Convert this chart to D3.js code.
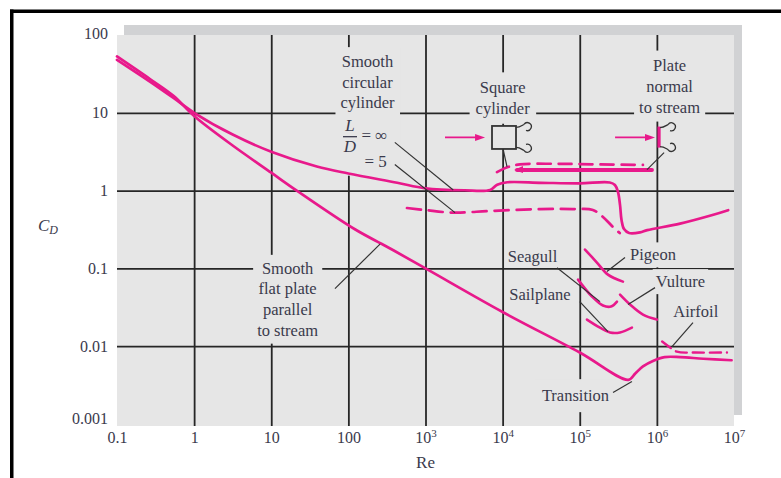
<!DOCTYPE html>
<html><head><meta charset="utf-8">
<script src="https://cdn.jsdelivr.net/npm/d3@7"></script>
<style>
html,body{margin:0;padding:0;background:#fff;}
svg{display:block;}
text{font-family:"Liberation Serif","Times New Roman",serif;}
</style></head><body>
<svg id="c" width="781" height="478"></svg>
<script>
// ---------- data ----------
const reTicks = [0.1, 1, 10, 100, 1e3, 1e4, 1e5, 1e6, 1e7];
const reTickBase = ["0.1", "1", "10", "100", "10", "10", "10", "10", "10"];
const reTickSup  = ["", "", "", "", "3", "4", "5", "6", "7"];
const cdTicks = [0.001, 0.01, 0.1, 1, 10, 100];
const cdTickLabels = ["0.001", "0.01", "0.1", "1", "10", "100"];
const gridRe = [1, 10, 100, 1e3, 1e4, 1e5, 1e6];
const gridCd = [0.01, 0.1, 1, 10];

// [Re, CD]
const cylinderInf = [[0.1,48],[0.27,25],[0.54,15.5],[1,10],[3.16,5.25],[10,3.16],[39,2.04],[100,1.66],[430,1.26],[1000,1.07],[3200,1.01],[6900,1.02],[8500,1.19],[11500,1.28],[31600,1.26],[1e5,1.24],[2.45e5,1.27],[2.86e5,1.18],[3.13e5,0.96],[3.33e5,0.65],[3.48e5,0.42],[3.75e5,0.32],[4.36e5,0.285],[6.05e5,0.29],[7.5e5,0.31],[2e6,0.377],[5.4e6,0.49],[8.4e6,0.56]];
const cylinderLD5 = [[575,0.597],[1000,0.562],[2290,0.521],[6900,0.547],[30900,0.579],[81300,0.579],[1.48e5,0.564],[2.0e5,0.458],[2.7e5,0.34],[3.3e5,0.285]];
const flatPlate = [[0.1,53],[0.27,27],[0.54,16.5],[1,9.1],[3.16,3.8],[10,1.7],[21.4,1.0],[123,0.316],[316,0.19],[1000,0.1],[1e4,0.0275],[1e5,0.0083],[4.27e5,0.0037],[5.25e5,0.00447],[6.6e5,0.0055],[8.9e5,0.00646],[1.26e6,0.00724],[2e6,0.00724],[4e6,0.0069],[9.3e6,0.0066]];
const squareCyl = [[8450,1.73],[11750,2.01],[16800,2.17],[55500,2.21],[1.83e5,2.17],[6.6e5,2.14]];
const plateNormal = [[15350,1.84],[8.65e5,1.84]];
const airfoil = [[1.17e6,0.0115],[1.41e6,0.0100],[1.82e6,0.0085],[3.16e6,0.0083],[8.1e6,0.0083]];
const seagull = [[9.5e4,0.0718],[1.44e5,0.0435],[2.0e5,0.0333],[2.54e5,0.0323],[3.04e5,0.0374]];
const pigeon = [[1.17e5,0.1746],[1.67e5,0.119],[2.32e5,0.0832],[3.63e5,0.0676]];
const vulture = [[3.33e5,0.046],[4.49e5,0.0343],[6.61e5,0.0255],[1.0e6,0.022]];
const sailplane = [[1.24e5,0.022],[1.83e5,0.0173],[2.47e5,0.015],[3.33e5,0.015],[4.75e5,0.0173]];

// leader lines [[Re,CD],[Re,CD]]
const leaders = [
  [[400,4.17],[2290,1.02]],
  [[400,2.16],[2415,0.521]],
  [[10100,3.47],[11400,2.03]],
  [[1.24e6,3.08],[7.45e5,1.86]],
  [[67,0.055],[257,0.205]],
  [[50700,0.102],[1.83e5,0.0374]],
  [[1e5,0.0374],[2.32e5,0.0154]],
  [[3.86e5,0.138],[2.25e5,0.091]],
  [[9.46e5,0.0566],[4.23e5,0.0343]],
  [[2.94e6,0.0201],[1.57e6,0.00989]],
  [[2.7e5,0.00254],[4.75e5,0.00351]]
];

// ---------- drawing ----------
const svg = d3.select("#c");
const magenta = "#e8198b", gridCol = "#262626", txtCol = "#3a3a4c", bg = "#e6e6e6";
const x = d3.scaleLog().domain([0.1, 1e7]).range([117, 734]);
const y = d3.scaleLog().domain([0.001, 100]).range([424, 35]);
const P = (re, cd) => [x(re), y(cd)];

// frame
svg.append("rect").attr("x",10).attr("y",9.5).attr("width",771).attr("height",3.5).attr("fill","#000");
svg.append("rect").attr("x",10).attr("y",9.5).attr("width",3.5).attr("height",469).attr("fill","#000");
// shadow + plot bg
svg.append("rect").attr("x",124).attr("y",25).attr("width",618).attr("height",10).attr("fill","#d1d2d4");
svg.append("rect").attr("x",734).attr("y",25).attr("width",8).attr("height",390).attr("fill","#d1d2d4");
svg.append("rect").attr("x",117).attr("y",35).attr("width",617).attr("height",391).attr("fill",bg);

// grid
const gV = svg.append("g").attr("transform","translate(0,426)")
  .call(d3.axisBottom(x).tickValues(gridRe).tickSize(-391).tickFormat(""));
const gH = svg.append("g").attr("transform","translate(117,0)")
  .call(d3.axisLeft(y).tickValues(gridCd).tickSize(-617).tickFormat(""));
[gV, gH].forEach(g => { g.select(".domain").remove(); g.selectAll("line").attr("stroke",gridCol).attr("stroke-width",1.8); });

// tick labels
const ax = svg.append("g").attr("transform","translate(0,424)")
  .call(d3.axisBottom(x).tickValues(reTicks).tickSize(0).tickPadding(8).tickFormat(""));
ax.select(".domain").remove();
ax.selectAll(".tick text").each(function(d,i){
  const t = d3.select(this).attr("fill",txtCol).attr("font-size",16).attr("font-family","Liberation Serif");
  t.append("tspan").text(reTickBase[i]);
  if (reTickSup[i]) t.append("tspan").attr("dy",-6).attr("font-size",11).text(reTickSup[i]);
});
const ay = svg.append("g").attr("transform","translate(117,0)")
  .call(d3.axisLeft(y).tickValues(cdTicks).tickSize(0).tickPadding(9).tickFormat((d,i)=>cdTickLabels[i]));
ay.select(".domain").remove();
ay.selectAll(".tick text").attr("fill",txtCol).attr("font-size",16).attr("font-family","Liberation Serif")
  .attr("dy", (d)=> d===100 ? "0.2em" : d===0.001 ? "-0.05em" : "0.32em");

// axis titles
const cd = svg.append("text").attr("x",38).attr("y",231).attr("fill",txtCol).attr("font-style","italic").attr("font-size",17);
cd.append("tspan").text("C");
cd.append("tspan").attr("dy",3).attr("font-size",12).text("D");
svg.append("text").attr("x",x(1000)).attr("y",468).attr("text-anchor","middle").attr("fill",txtCol).attr("font-size",17).text("Re");

// layers
const boxL = svg.append("g"), curveL = svg.append("g"), leadL = svg.append("g"), textL = svg.append("g"), annL = svg.append("g");

function label(lines, re, cdv, lh, pad, extra){
  const [cx, cy] = P(re, cdv);
  const g = textL.append("g").attr("fill",txtCol).attr("font-size",16.5);
  lines.forEach((t,i)=> g.append("text").attr("x",cx).attr("y",cy+i*lh).attr("dy","0.33em").attr("text-anchor","middle").text(t));
  if (extra) extra(g, cx, cy);
  const bb = g.node().getBBox();
  boxL.append("rect").attr("x",bb.x-pad).attr("y",bb.y-pad).attr("width",bb.width+2*pad).attr("height",bb.height+2*pad).attr("fill",bg);
}

label(["Smooth","circular","cylinder"], 177, 45.4, 20.6, 5, (g,cx,cy)=>{
  const fx = cx-17.5, fy = cy+75;
  g.append("text").attr("x",fx).attr("y",fy-6).attr("text-anchor","middle").attr("font-style","italic").attr("font-size",17).text("L");
  g.append("line").attr("x1",fx-7).attr("x2",fx+7).attr("y1",fy).attr("y2",fy).attr("stroke",txtCol).attr("stroke-width",1.3);
  g.append("text").attr("x",fx).attr("y",fy+15).attr("text-anchor","middle").attr("font-style","italic").attr("font-size",17).text("D");
  g.append("text").attr("x",cx-6).attr("y",fy+4).attr("font-size",17).text("= \u221E");
  g.append("text").attr("x",cx-3).attr("y",fy+30).attr("font-size",17).text("= 5");
});
label(["Square","cylinder"], 1e4, 20.9, 20.4, 6);
label(["Plate","normal","to stream"], 1.46e6, 41, 21, 5);
label(["Smooth","flat plate","parallel","to stream"], 16.3, 0.1, 20.6, 4);
label(["Seagull"], 24400, 0.144, 0, 0);
label(["Sailplane"], 30500, 0.0455, 0, 0);
label(["Pigeon"], 8.9e5, 0.149, 0, 3);
label(["Vulture"], 2.02e6, 0.0675, 0, 3);
label(["Airfoil"], 3.2e6, 0.0277, 0, 0);
label(["Transition"], 88100, 0.00231, 0, 7);

// curves
const line = d3.line().x(d=>x(d[0])).y(d=>y(d[1])).curve(d3.curveCatmullRom.alpha(0.5));
function curve(data, w, dash){
  curveL.append("path").attr("d", line(data)).attr("fill","none").attr("stroke",magenta)
    .attr("stroke-width", w).attr("stroke-linecap","round").attr("stroke-linejoin","round")
    .attr("stroke-dasharray", dash || null);
}
curve(cylinderInf, 2.7);
curve(cylinderLD5, 2.7, "14,8");
curve(flatPlate, 2.7);
curve(squareCyl, 2.7, "13,8");
curve(plateNormal, 3.8);
curve(airfoil, 2.4, "11,6");
[seagull, pigeon, vulture, sailplane].forEach(d=>curve(d, 2.6));

// plate-normal left end wedge
{ const [px0, py0] = P(plateNormal[0][0], plateNormal[0][1]);
  curveL.append("path").attr("d",`M${px0-3},${py0} L${px0+6},${py0-4} L${px0+6},${py0+3} Z`).attr("fill",magenta); }

// leaders
leaders.forEach(l=>{
  const [a,b] = l.map(p=>P(p[0],p[1]));
  leadL.append("line").attr("x1",a[0]).attr("y1",a[1]).attr("x2",b[0]).attr("y2",b[1]).attr("stroke","#333").attr("stroke-width",1.2);
});

// annotations: square cylinder & plate normal sketches
function arrow(x1, x2, yy){
  annL.append("line").attr("x1",x1).attr("x2",x2-7).attr("y1",yy).attr("y2",yy).attr("stroke",magenta).attr("stroke-width",1.8);
  annL.append("path").attr("d",`M${x2},${yy} L${x2-10},${yy-3.5} L${x2-10},${yy+3.5} Z`).attr("fill",magenta);
}
function curl(x0, y0, s){
  annL.append("path").attr("d",`M${x0},${y0} C${x0+4},${y0} ${x0+6},${y0-2*s} ${x0+8},${y0-3*s}`).attr("fill","none").attr("stroke","#333").attr("stroke-width",1.3);
  annL.append("path").attr("d",`M${x0+8},${y0-3*s} A4,4 0 1,${s>0?1:0} ${x0+10},${y0+3*s}`).attr("fill","none").attr("stroke","#333").attr("stroke-width",1.3);
}
{
  const [sx, sy] = P(10420, 4.82);   // square centre
  annL.append("rect").attr("x",sx-12).attr("y",sy-11.5).attr("width",24).attr("height",23).attr("fill",bg).attr("stroke","#333").attr("stroke-width",1.8);
  curl(sx+12, sy-10, 1);
  curl(sx+12, sy+10, -1);
  const [a1] = P(1790, 1); const [a2] = P(5920, 1);
  arrow(a1, a2, sy);
  const [plx, ply1] = P(1.067e6, 6.65); const [, ply2] = P(1.067e6, 3.57);
  annL.append("line").attr("x1",plx).attr("x2",plx).attr("y1",ply1).attr("y2",ply2).attr("stroke",magenta).attr("stroke-width",3.2);
  curl(plx+1, ply1+1, 1);
  curl(plx+1, ply2-1, -1);
  const [b1] = P(2.87e5, 1); const [b2] = P(9.46e5, 1);
  arrow(b1, b2, sy);
}
</script>
</body></html>
